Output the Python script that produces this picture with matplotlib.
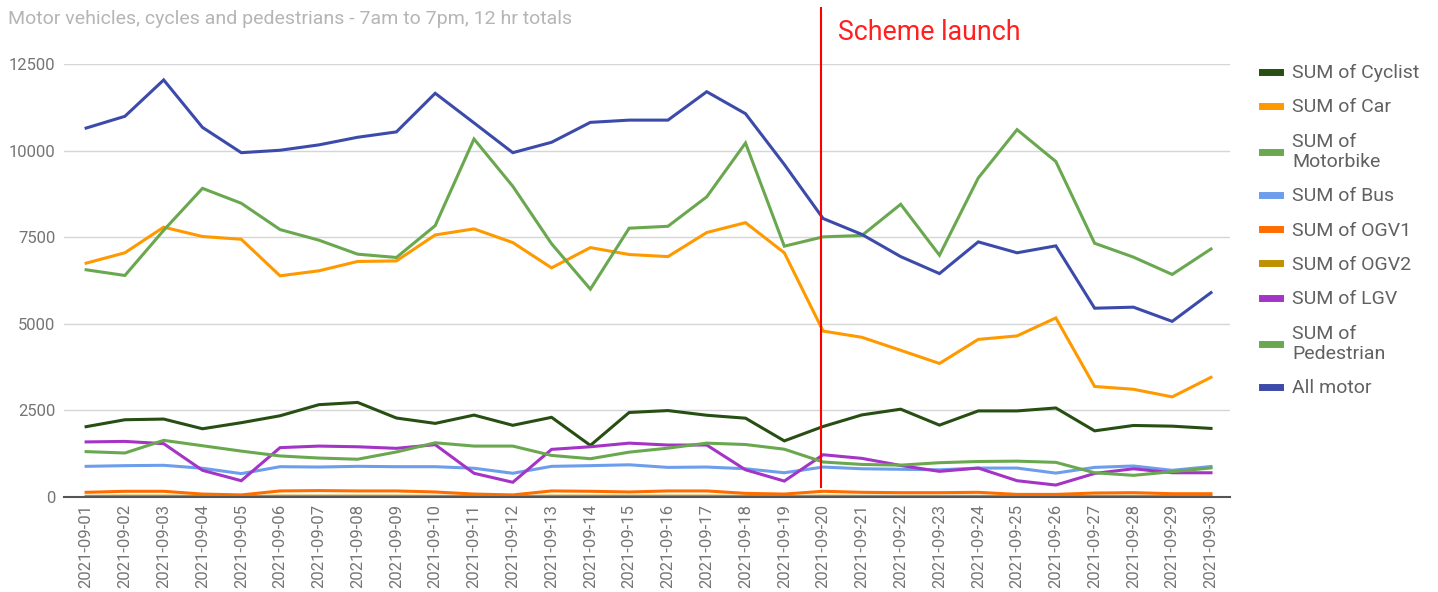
import matplotlib
matplotlib.use('Agg')
from matplotlib import pyplot as plt

plt.rcParams['font.family'] = ['Roboto', 'DejaVu Sans']

# Daily 12 hr counts, 1-30 Sept 2021
dates = ['2021-09-%02d' % d for d in range(1, 31)]

cyclist = [2030, 2230, 2250, 1970, 2145, 2345, 2665, 2730, 2280, 2125,
           2365, 2070, 2300, 1490, 2440, 2495, 2360, 2275, 1620, 2035,
           2370, 2535, 2075, 2485, 2485, 2570, 1910, 2065, 2045, 1980]
car = [6750, 7050, 7790, 7520, 7440, 6385, 6530, 6800, 6815, 7565,
       7740, 7345, 6615, 7200, 7000, 6940, 7635, 7920, 7050, 4790,
       4610, 4235, 3855, 4550, 4650, 5170, 3190, 3110, 2890, 3455]
motorbike = [6560, 6395, 7700, 8910, 8480, 7720, 7415, 7010, 6915, 7835,
             10335, 8970, 7310, 6000, 7760, 7815, 8665, 10220, 7240, 7510,
             7550, 8450, 6980, 9210, 10605, 9685, 7325, 6925, 6425, 7160]
bus = [885, 905, 915, 830, 675, 875, 865, 885, 875, 875,
       830, 685, 885, 905, 930, 855, 865, 815, 700, 865,
       815, 800, 785, 835, 835, 690, 855, 895, 770, 880]
ogv1 = [135, 165, 165, 85, 60, 175, 185, 175, 175, 145,
        85, 60, 175, 165, 145, 175, 175, 105, 85, 165,
        135, 125, 125, 135, 75, 75, 115, 125, 95, 95]
ogv2 = [20, 25, 25, 20, 15, 25, 25, 25, 25, 20,
        20, 15, 25, 25, 25, 25, 25, 20, 15, 25,
        20, 20, 20, 20, 15, 15, 20, 20, 15, 15]
lgv = [1590, 1605, 1540, 770, 470, 1425, 1470, 1450, 1405, 1510,
       685, 425, 1375, 1450, 1555, 1500, 1500, 785, 460, 1220,
       1115, 910, 740, 835, 470, 345, 680, 815, 700, 700]
pedestrian = [1310, 1270, 1635, 1480, 1325, 1185, 1125, 1090, 1300, 1565,
              1470, 1470, 1200, 1105, 1295, 1410, 1555, 1515, 1380, 1010,
              940, 920, 990, 1025, 1035, 1000, 700, 625, 730, 840]
all_motor = [10650, 10990, 12040, 10670, 9940, 10010, 10165, 10385, 10540, 11655,
             10800, 9940, 10240, 10815, 10880, 10880, 11700, 11065, 9600, 8040,
             7580, 6940, 6450, 7365, 7050, 7250, 5450, 5480, 5070, 5900]

series = [
    ('SUM of Cyclist', cyclist, '#274e13'),
    ('SUM of Car', car, '#ff9900'),
    ('SUM of\nMotorbike', motorbike, '#6aa84f'),
    ('SUM of Bus', bus, '#6d9eeb'),
    ('SUM of OGV1', ogv1, '#ff6d01'),
    ('SUM of OGV2', ogv2, '#bf9000'),
    ('SUM of LGV', lgv, '#a434c6'),
    ('SUM of\nPedestrian', pedestrian, '#6aa84f'),
    ('All motor', all_motor, '#3c4ba9'),
]

fig = plt.figure(figsize=(14.38, 5.92), dpi=100)
ax = fig.add_axes([64 / 1438, 95 / 592, 1166 / 1438, 433 / 592])

x = list(range(len(dates)))
for label, vals, col in series:
    ax.plot(x, vals, color=col, lw=2.2, label=label, solid_joinstyle='miter')

# Format plot.
ax.set_xlim(-0.57, 29.49)
ax.set_ylim(0, 12500)
ax.set_yticks([0, 2500, 5000, 7500, 10000, 12500])
ax.set_xticks(x)
ax.set_xticklabels(dates, rotation=90)
ax.tick_params(axis='both', length=0, labelsize=12, labelcolor='#757575')
ax.tick_params(axis='y', pad=6)
ax.tick_params(axis='x', pad=5)
ax.grid(axis='y', color='#d6d6d6', lw=1)
ax.set_axisbelow(True)
for s in ['top', 'right', 'left']:
    ax.spines[s].set_visible(False)
ax.spines['bottom'].set_color('#555555')
ax.spines['bottom'].set_linewidth(1.5)

# Scheme launch marker
ax.axvline(18.95, ymin=0.023, ymax=1.129, color='#ff0000', lw=1.5, clip_on=False)
fig.text(838 / 1438, 1 - 40 / 592, 'Scheme launch', color='#ff2020',
         fontsize=19.3, va='baseline', ha='left')

fig.text(8 / 1438, 1 - 24 / 592,
         'Motor vehicles, cycles and pedestrians - 7am to 7pm, 12 hr totals',
         color='#b5b5b5', fontsize=14, va='baseline', ha='left')

leg = fig.legend(loc='upper left', bbox_to_anchor=(1262 / 1438, 1 - 64 / 592),
                 frameon=False, fontsize=14, handlelength=0.9, handleheight=0.6,
                 handletextpad=0.65, labelspacing=0.84, borderpad=0, borderaxespad=0)
for t in leg.get_texts():
    t.set_color('#616161')
    t.set_linespacing(1.16)
for h in leg.get_lines():
    h.set_linewidth(5)

fig.savefig('out.png', dpi=100)
